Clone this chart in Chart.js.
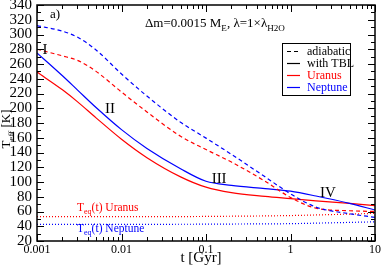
<!DOCTYPE html>
<html lang="en">
<head>
    <meta charset="UTF-8">
    <title>Teff evolution</title>
    <script src="https://cdn.jsdelivr.net/npm/chart.js"></script>
    <style>
        body { margin: 0; background: #fff; }
    </style>
</head>
<body>
    <canvas id="teffChart" width="382" height="268"></canvas>

    <script>
        // time grid [Gyr] and effective temperatures [K]
        const tGyr = [0.001, 0.002, 0.003, 0.005, 0.01, 0.02, 0.05, 0.1, 0.2, 0.5, 1, 2, 5, 10];
        const neptuneAdiabatic = [312, 304.5, 296.5, 279, 246.5, 216.5, 181, 159.5, 137.5, 107, 84, 66, 57, 52];
        const uranusAdiabatic  = [280, 271, 265, 250, 222, 195, 162, 144, 127, 101, 79, 64.5, 61, 60];
        const neptuneTBL       = [275, 244, 225, 201, 171, 145.5, 118, 101, 95.5, 91, 87.5, 81, 71, 62];
        const uranusTBL        = [249, 225, 209, 187, 158, 133, 107, 93, 85.5, 80.5, 77.5, 74.5, 71, 68];
        const uranusTeq        = [53, 53, 53, 53, 53, 53, 53.1, 53.3, 53.6, 54, 54.5, 55.3, 56.5, 57.5];
        const neptuneTeq       = [42.5, 42.5, 42.5, 42.5, 42.6, 42.6, 42.7, 42.8, 43, 43.2, 43.5, 44.2, 45.2, 46];

        const xTicks = [0.001, 0.01, 0.1, 1, 10];
        const yMin = 20, yMax = 340, yStep = 20;

        const RED = '#ff0000';
        const BLUE = '#0000ff';
        const SERIF = "'Liberation Serif', 'Times New Roman', serif";

        function pts(vals) {
            return tGyr.map((t, i) => ({ x: t, y: vals[i] }));
        }

        function line(vals, color, dash) {
            return {
                data: pts(vals),
                borderColor: color,
                borderWidth: 1.2,
                borderDash: dash,
                pointRadius: 0,
                cubicInterpolationMode: 'monotone',
                fill: false
            };
        }

        // text with subscripts: parts = [[text, isSub], ...]
        function drawParts(ctx, x, y, parts, size, color, align) {
            ctx.fillStyle = color;
            ctx.textBaseline = 'alphabetic';
            ctx.textAlign = 'left';
            let w = 0;
            parts.forEach(p => {
                ctx.font = (p[1] ? size * 0.7 : size) + 'px ' + SERIF;
                w += ctx.measureText(p[0]).width;
            });
            let cx = align === 'center' ? x - w / 2 : x;
            parts.forEach(p => {
                ctx.font = (p[1] ? size * 0.7 : size) + 'px ' + SERIF;
                ctx.fillText(p[0], cx, p[1] ? y + size * 0.3 : y);
                cx += ctx.measureText(p[0]).width;
            });
        }

        const decorations = {
            id: 'decorations',
            afterDraw(chart) {
                const ctx = chart.ctx;
                const a = chart.chartArea;
                const xs = chart.scales.x, ys = chart.scales.y;
                ctx.save();

                // inward ticks on all four sides
                ctx.strokeStyle = '#000';
                ctx.lineWidth = 1;
                ctx.beginPath();
                for (let v = yMin; v <= yMax; v += yStep / 2) {
                    const y = Math.round(ys.getPixelForValue(v)) + 0.5;
                    const len = (v - yMin) % yStep === 0 ? 7 : 4;
                    ctx.moveTo(a.left, y); ctx.lineTo(a.left + len, y);
                    ctx.moveTo(a.right, y); ctx.lineTo(a.right - len, y);
                }
                xTicks.forEach(d => {
                    for (let k = 1; k <= 9; k++) {
                        const v = d * k;
                        if (v > 10 + 1e-9) break;
                        const x = Math.round(xs.getPixelForValue(v)) + 0.5;
                        const len = k === 1 ? 7 : 4;
                        ctx.moveTo(x, a.bottom); ctx.lineTo(x, a.bottom - len);
                        ctx.moveTo(x, a.top); ctx.lineTo(x, a.top + len);
                    }
                });
                ctx.stroke();

                // frame
                ctx.lineWidth = 1.5;
                ctx.strokeRect(a.left, a.top, a.right - a.left, a.bottom - a.top);

                // axis titles
                drawParts(ctx, 201, 262, [['t [Gyr]', false]], 15, '#000', 'center');
                ctx.save();
                ctx.translate(10, 129);
                ctx.rotate(-Math.PI / 2);
                drawParts(ctx, 0, 0, [['T', false], ['eff', true], [' [K]', false]], 13, '#000', 'center');
                ctx.restore();

                // panel label and parameters
                drawParts(ctx, 50, 18, [['a)', false]], 13, '#000');
                drawParts(ctx, 145, 27, [['\u0394m=0.0015 M', false], ['E', true], [', \u03bb=1\u00d7\u03bb', false], ['H2O', true]], 13, '#000');

                // phase labels placed in data coordinates
                const phases = [['I', 0.00124, 281], ['II', 0.0073, 201], ['III', 0.143, 106], ['IV', 2.78, 86]];
                phases.forEach(p => {
                    drawParts(ctx, xs.getPixelForValue(p[1]), ys.getPixelForValue(p[2]) + 5, [[p[0], false]], 15, '#000', 'center');
                });

                // equilibrium temperature labels
                drawParts(ctx, 77, 211, [['T', false], ['eq', true], ['(t) Uranus', false]], 11.5, RED);
                drawParts(ctx, 77, 232, [['T', false], ['eq', true], ['(t) Neptune', false]], 11.5, BLUE);

                // legend
                const lx = 282, ly = 43;
                ctx.fillStyle = '#fff';
                ctx.fillRect(lx, ly, 68, 52);
                ctx.strokeStyle = '#000';
                ctx.lineWidth = 1;
                ctx.strokeRect(lx + 0.5, ly + 0.5, 68, 52);
                const items = [
                    ['adiabatic', '#000', [4, 3], '#000'],
                    ['with TBL', '#000', [], '#000'],
                    ['Uranus', RED, [], RED],
                    ['Neptune', BLUE, [], BLUE]
                ];
                items.forEach((it, i) => {
                    const y = ly + 8 + i * 12;
                    ctx.strokeStyle = it[1];
                    ctx.lineWidth = 1.2;
                    ctx.setLineDash(it[2]);
                    ctx.beginPath();
                    ctx.moveTo(lx + 5, y + 0.5); ctx.lineTo(lx + 18, y + 0.5);
                    ctx.stroke();
                    ctx.setLineDash([]);
                    drawParts(ctx, lx + 25, y + 4, [[it[0], false]], 12, it[3]);
                });

                ctx.restore();
            }
        };

        new Chart(document.getElementById('teffChart'), {
            type: 'line',
            data: {
                datasets: [
                    line(neptuneAdiabatic, BLUE, [4, 3]),
                    line(uranusAdiabatic, RED, [4, 3]),
                    line(neptuneTBL, BLUE, []),
                    line(uranusTBL, RED, []),
                    line(uranusTeq, RED, [1, 2]),
                    line(neptuneTeq, BLUE, [1, 2])
                ]
            },
            options: {
                responsive: false,
                animation: false,
                layout: { padding: { top: 5, right: 7, left: 0, bottom: 0 } },
                plugins: {
                    legend: { display: false },
                    tooltip: { enabled: false }
                },
                scales: {
                    x: {
                        type: 'logarithmic',
                        min: 0.001,
                        max: 10,
                        afterBuildTicks: s => { s.ticks = xTicks.map(v => ({ value: v })); },
                        afterFit: s => { s.height = 27; s.paddingLeft = 0; s.paddingRight = 0; },
                        grid: { display: false, drawTicks: false },
                        border: { display: false },
                        ticks: {
                            autoSkip: false,
                            maxRotation: 0,
                            padding: 2,
                            color: '#000',
                            font: { family: SERIF, size: 12 },
                            callback: v => String(v)
                        }
                    },
                    y: {
                        min: yMin,
                        max: yMax,
                        afterFit: s => { s.width = 37; s.paddingTop = 0; s.paddingBottom = 0; },
                        grid: { display: false, drawTicks: false },
                        border: { display: false },
                        ticks: {
                            stepSize: yStep,
                            autoSkip: false,
                            padding: 5,
                            color: '#000',
                            font: { family: SERIF, size: 15 }
                        }
                    }
                }
            },
            plugins: [decorations]
        });
    </script>
</body>
</html>
